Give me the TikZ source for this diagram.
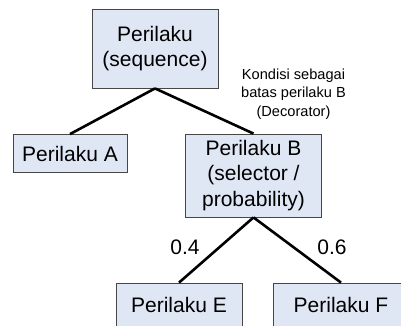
\documentclass[tikz,border=0pt]{standalone}
\usepackage{fontspec}
\setmainfont{Liberation Sans}
\usepackage{tikz}
\definecolor{isibox}{RGB}{224,231,244}
\definecolor{tepibox}{RGB}{70,70,70}
\tikzset{
  kotak/.style={draw=tepibox, fill=isibox, line width=0.8pt, align=center, inner sep=0pt, font=\fontsize{21}{25.5}\selectfont},
  garis/.style={line width=2.6pt},
  ket/.style={align=center, inner sep=0pt, font=\fontsize{14.6}{18.5}\selectfont},
  angka/.style={inner sep=0pt, font=\fontsize{21}{25}\selectfont}
}

\begin{document}
\begin{tikzpicture}[x=1pt,y=-1pt]
\clip (0,0) rectangle (401,325);
\node [kotak, minimum width=126pt, minimum height=79pt] (induk) at (155,48.5) {Perilaku\\(sequence)};
\node [kotak, minimum width=114pt, minimum height=38pt] (pa) at (70,153.5) {Perilaku A};
\node [kotak, minimum width=136pt, minimum height=83pt] (pb) at (253.5,175.5) {Perilaku B\\(selector /\\probability)};
\node [kotak, minimum width=126pt, minimum height=44pt] (pe) at (179,305) {Perilaku E};
\node [kotak, minimum width=136pt, minimum height=44pt] (pf) at (341,305) {Perilaku F};
\draw [garis] (induk.south) -- (pa.north);
\draw [garis] (induk.south) -- (pb.north);
\draw [garis] (pb.south) -- (pe.north);
\draw [garis] (pb.south) -- (pf.north);
\node [ket] (dekor) at (293.5,94) {Kondisi sebagai\\batas perilaku B\\(Decorator)};
\node [angka] (pe04) at (185,247) {0.4};
\node [angka] (pf06) at (332,247) {0.6};
\end{tikzpicture}
\end{document}
